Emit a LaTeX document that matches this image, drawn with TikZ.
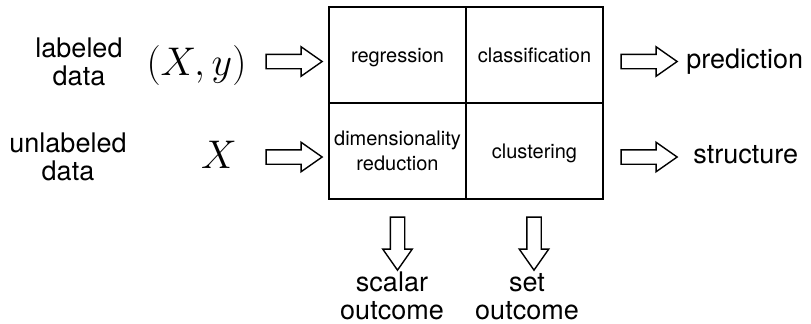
\RequirePackage{fix-cm}
\documentclass[tikz,border=0pt]{standalone}
\usepackage{fontspec}
\setmainfont{TeX Gyre Heros}
\usepackage{tikz}
\usetikzlibrary{shapes.arrows}
\tikzset{
  cell/.style={draw, line width=0.8pt, minimum width=68.5pt, minimum height=48pt,
    inner sep=0pt, text depth=0pt, align=center, font=\fontsize{10}{12.5}\selectfont},
  fatarrow/.style={single arrow, draw, line width=0.7pt, minimum height=28pt,
    minimum width=0pt, inner sep=3.25pt, single arrow head extend=3.75pt,
    single arrow tip angle=70},
  outtext/.style={align=center, inner sep=0pt, font=\fontsize{13.5}{14}\selectfont},
  mathtext/.style={inner sep=0pt, font=\fontsize{20}{21}\selectfont}
}

\begin{document}
\begin{tikzpicture}[x=0.5pt, y=-0.5pt]
  \useasboundingbox (0, 0) rectangle (811, 323);

  % the four cells
  \node[cell] (reg) at (397.5, 55) {regression};
  \node[cell] (cls) at (534.5, 55) {classification};
  \node[cell] (dimred) at (397.5, 151) {dimensionality\\reduction};
  \node[cell] (clu) at (534.5, 151) {clustering};

  % inputs
  \node[outtext] (labeled) at (79, 62) {labeled\\data};
  \node[outtext] (unlabeled) at (68, 157) {unlabeled\\data};
  \node[mathtext] (xy) at (196.5, 65) {$(X, y)$};
  \node[mathtext] (x) at (219, 155) {$X$};
  \node[fatarrow] (inxy) at (289, 61.5) {};
  \node[fatarrow] (inx) at (289, 157) {};

  % outputs on the right
  \node[fatarrow] (outpred) at (644, 61.5) {};
  \node[fatarrow] (outstruct) at (644, 157) {};
  \node[outtext, anchor=west] (pred) at (686, 61.5) {prediction};
  \node[outtext, anchor=west] (struct) at (693, 155) {structure};

  % outputs below
  \node[fatarrow, shape border rotate=270, minimum height=26.5pt] (outscalar) at (397.5, 238.5) {};
  \node[fatarrow, shape border rotate=270, minimum height=26.5pt] (outset) at (534, 238.5) {};
  \node[outtext] (scalar) at (392, 295.5) {scalar\\outcome};
  \node[outtext] (set) at (527, 296.5) {set\\outcome};
\end{tikzpicture}
\end{document}
